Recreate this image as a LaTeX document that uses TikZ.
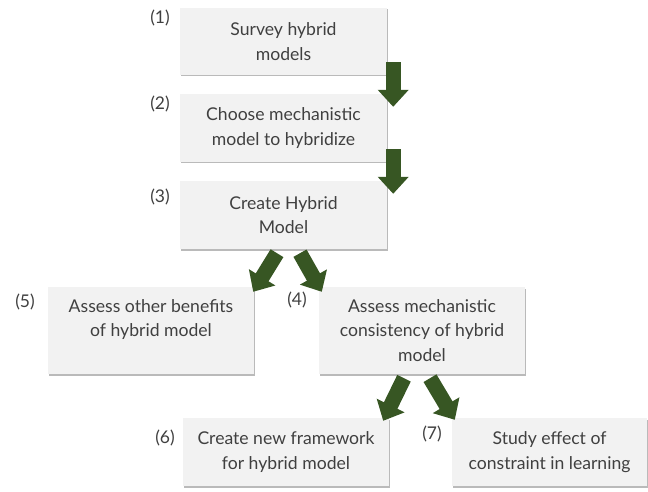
\documentclass[tikz,border=0pt]{standalone}
\usepackage{fontspec}
\setmainfont{Lato}
\usetikzlibrary{calc,shadows,arrows.meta}
\definecolor{boxfill}{HTML}{F2F2F2}
\definecolor{txt}{HTML}{404040}
\definecolor{agreen}{HTML}{375623}
\begin{document}
\begin{tikzpicture}[x=1pt,y=-1pt,
  stepbox/.style={draw=none,fill=boxfill,text=txt,align=center,
    font=\fontsize{17.6}{24.5}\selectfont,inner sep=2pt,
    drop shadow={shadow xshift=1.2pt,shadow yshift=-1.5pt,fill=black!45,opacity=0.6}},
  numlabel/.style={text=txt,font=\fontsize{17.5}{20}\selectfont,inner sep=0pt},
  blockarrow/.style={draw=agreen,line width=15pt,-{Triangle[width=30pt,length=17pt]}}]
\useasboundingbox (0,0) rectangle (648,492);
\node[stepbox,minimum width=207pt,minimum height=67pt] (b1) at (283.5,41.5) {Survey hybrid\\models};
\node[stepbox,minimum width=207pt,minimum height=68pt] (b2) at (283.5,128) {Choose mechanistic\\model to hybridize};
\node[stepbox,minimum width=207pt,minimum height=68pt] (b3) at (283.5,215) {Create Hybrid\\Model};
\node[stepbox,minimum width=206pt,minimum height=87pt] (b5) at (151,330.5) {Assess other benefits\\of hybrid model\\\mbox{}};
\node[stepbox,minimum width=206pt,minimum height=87pt] (b4) at (422,330.5) {Assess mechanistic\\consistency of hybrid\\model};
\node[stepbox,minimum width=206pt,minimum height=68pt] (b6) at (286,452) {Create new framework\\for hybrid model};
\node[stepbox,minimum width=195pt,minimum height=68pt] (b7) at (549.5,452) {Study effect of\\constraint in learning};
\node[numlabel] (l1) at (160,18) {(1)};
\node[numlabel] (l2) at (160,104) {(2)};
\node[numlabel] (l3) at (160,197) {(3)};
\node[numlabel] (l5) at (25,302) {(5)};
\node[numlabel] (l4) at (297,300) {(4)};
\node[numlabel] (l6) at (165,438) {(6)};
\node[numlabel] (l7) at (432,434) {(7)};
\draw[blockarrow] ($(b1.south east)+(6,-13)$) -- ($(b2.north east)+(6,13)$);
\draw[blockarrow] ($(b2.south east)+(6,-13)$) -- ($(b3.north east)+(6,13)$);
\draw[blockarrow] ($(b3.south)+(-6.5,4)$) -- ($(b5.north east)+(-1,5)$);
\draw[blockarrow] ($(b3.south)+(16.5,4)$) -- ($(b4.north west)+(3,5)$);
\draw[blockarrow] ($(b4.south)+(-18,4)$) -- ($(b6.north east)+(-6,3)$);
\draw[blockarrow] ($(b4.south)+(8,4)$) -- ($(b7.north west)+(3,2)$);
\end{tikzpicture}
\end{document}
